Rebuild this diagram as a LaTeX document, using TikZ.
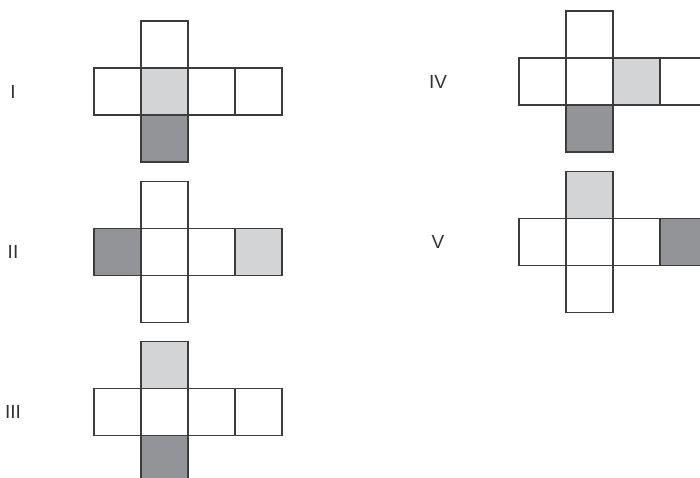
\documentclass[tikz,border=0pt]{standalone}
\usepackage{fontspec}
\setmainfont{Liberation Sans}
\usepackage{tikz}
\usetikzlibrary{positioning}
\definecolor{edgegray} {HTML}{3C3C3C}
\definecolor{lightface}{HTML}{D3D4D6}
\definecolor{darkface} {HTML}{939497}
\definecolor{labgray}  {HTML}{333333}

\begin{document}
\begin{tikzpicture}[
  cell/.style={draw=edgegray,line width=1.4pt,fill=white,
               minimum size=47pt,inner sep=0pt,outer sep=0pt},
  light/.style={cell,fill=lightface},
  dark/.style={cell,fill=darkface},
  lbl/.style={font=\fontsize{19}{20}\selectfont,text=labgray},
  x=1pt,y=-1pt
]
\useasboundingbox (0,0) rectangle (700,478);
\clip (0,0) rectangle (700,478);

% labels
\node[lbl] (labI)   at (13, 92)  {I};
\node[lbl] (labII)  at (13, 252) {II};
\node[lbl] (labIII) at (13, 412) {III};
\node[lbl] (labIV)  at (438,82)  {IV};
\node[lbl] (labV)   at (438,242) {V};

% net I
\node[light] (I-c) at (164.5,91.5) {};
\node[cell]  (I-l)  [left=0pt of I-c]  {};
\node[cell]  (I-r)  [right=0pt of I-c] {};
\node[cell]  (I-rr) [right=0pt of I-r] {};
\node[cell]  (I-t)  [above=0pt of I-c] {};
\node[dark]  (I-b)  [below=0pt of I-c] {};

% net II
\node[cell]  (II-c) at (164.5,252) {};
\node[dark]  (II-l)  [left=0pt of II-c]  {};
\node[cell]  (II-r)  [right=0pt of II-c] {};
\node[light] (II-rr) [right=0pt of II-r] {};
\node[cell]  (II-t)  [above=0pt of II-c] {};
\node[cell]  (II-b)  [below=0pt of II-c] {};

% net III
\node[cell]  (III-c) at (164.5,412) {};
\node[cell]  (III-l)  [left=0pt of III-c]  {};
\node[cell]  (III-r)  [right=0pt of III-c] {};
\node[cell]  (III-rr) [right=0pt of III-r] {};
\node[light] (III-t)  [above=0pt of III-c] {};
\node[dark]  (III-b)  [below=0pt of III-c] {};

% net IV
\node[cell]  (IV-c) at (589.5,81.5) {};
\node[cell]  (IV-l)  [left=0pt of IV-c]  {};
\node[light] (IV-r)  [right=0pt of IV-c] {};
\node[cell]  (IV-rr) [right=0pt of IV-r] {};
\node[cell]  (IV-t)  [above=0pt of IV-c] {};
\node[dark]  (IV-b)  [below=0pt of IV-c] {};

% net V
\node[cell]  (V-c) at (589.5,242) {};
\node[cell]  (V-l)  [left=0pt of V-c]  {};
\node[cell]  (V-r)  [right=0pt of V-c] {};
\node[dark]  (V-rr) [right=0pt of V-r] {};
\node[light] (V-t)  [above=0pt of V-c] {};
\node[cell]  (V-b)  [below=0pt of V-c] {};
\end{tikzpicture}
\end{document}
